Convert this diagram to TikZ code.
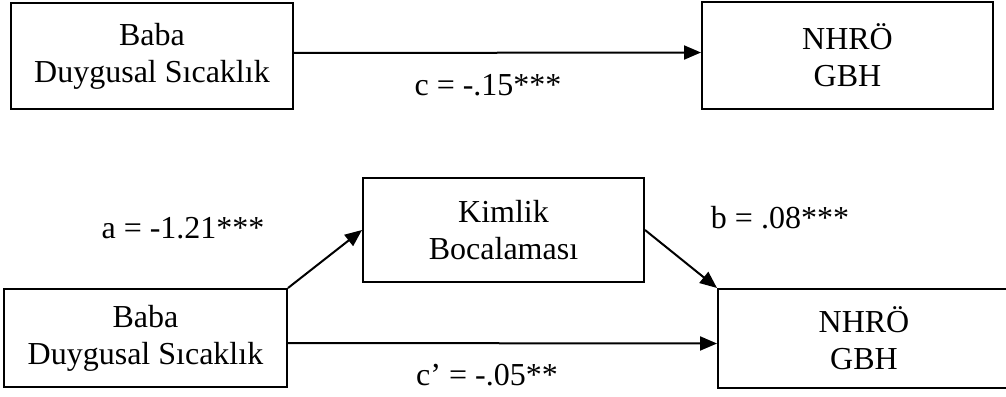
\documentclass[tikz,border=0pt]{standalone}
\usepackage{fontspec}
\setmainfont{Liberation Serif}
\usetikzlibrary{arrows.meta,positioning}
\begin{document}
\begin{tikzpicture}[x=1pt,y=-1pt,>={Triangle[length=17pt,width=14pt]},font=\fontsize{32}{37}\selectfont]
\tikzstyle{bx}=[draw,line width=2pt,inner sep=0pt,align=center,minimum height=100pt,minimum width=282pt]
\tikzstyle{ar}=[->,line width=2pt]
\useasboundingbox (0,0) rectangle (1006,396);
% top: total effect
\node[bx,minimum height=106pt] (bf1) at (152,56) {Baba\\ Duygusal Sıcaklık};
\node[bx,minimum height=107pt,minimum width=291pt] (nh1) at (847.5,55.5) {NHRÖ\\ GBH};
\draw[ar] ([yshift=3pt]bf1.east) -- ([yshift=3pt]nh1.west);
\node[anchor=base] (lc) at (488,95) {c = -.15***};
% bottom: mediation
\node[bx,minimum height=98pt,minimum width=283pt] (bf2) at (145.5,338) {Baba\\ Duygusal Sıcaklık};
\node[bx,minimum height=104pt,minimum width=281pt] (kim) at (503.5,230) {Kimlik\\ Bocalaması};
\node[bx,minimum height=99pt,minimum width=292pt] (nh2) at (864,338.5) {NHRÖ\\ GBH};
\draw[ar] (bf2.north east) -- (kim.west); \draw[ar] (kim.east) -- (nh2.north west);
\draw[ar] ([yshift=-5pt]bf2.east) -- ([yshift=-5pt]nh2.west);
\node[anchor=base] (la) at (183,238) {a = -1.21***};
\node[anchor=base] (lb) at (780,228) {b = .08***};
\node[anchor=base] (lcp) at (487,385) {c’ = -.05**};
\end{tikzpicture}
\end{document}
